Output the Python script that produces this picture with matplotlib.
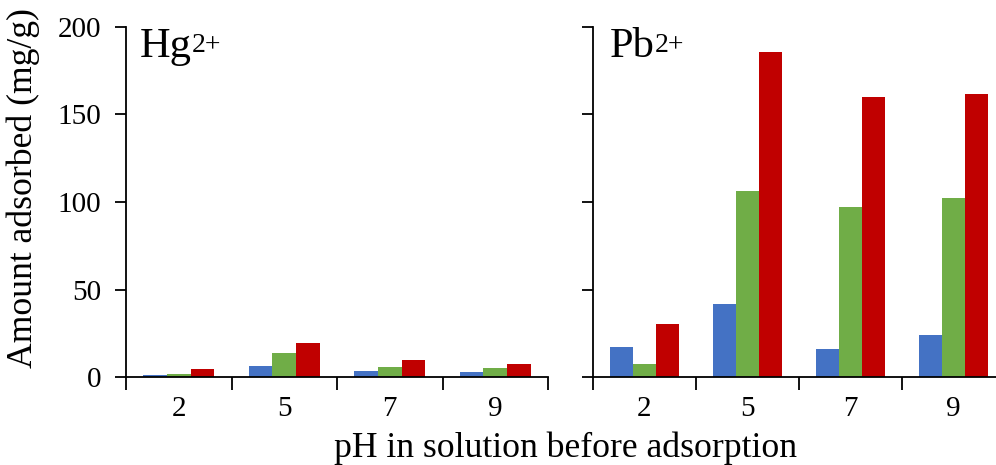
import matplotlib
matplotlib.use("Agg")
import matplotlib.pyplot as plt
import numpy as np

plt.rcParams['font.family'] = ['Liberation Serif', 'DejaVu Serif']

categories = ['2', '5', '7', '9']
hg_blue = [1.4, 6.2, 3.7, 2.7]
hg_green = [2.0, 13.5, 5.6, 5.0]
hg_red = [4.3, 19.3, 10.0, 7.2]
pb_blue = [17.0, 41.8, 16.0, 23.9]
pb_green = [7.7, 106.0, 97.0, 102.3]
pb_red = [30.5, 185.5, 160.0, 161.8]
colors = ['#4472C4', '#70AD47', '#C00000']

W, H = 996, 465
fig = plt.figure(figsize=(W / 100, H / 100), dpi=100)
ax1 = fig.add_axes([126 / W, 1 - 377 / H, 422 / W, 350 / H])
ax2 = fig.add_axes([593 / W, 1 - 377 / H, 412 / W, 350 / H])

w = 0.224
x = np.arange(len(categories))
titles = []
for ax, series, name, tx in [(ax1, [hg_blue, hg_green, hg_red], 'Hg', 140),
                             (ax2, [pb_blue, pb_green, pb_red], 'Pb', 610)]:
    for i, (vals, c) in enumerate(zip(series, colors)):
        ax.bar(x + (i - 1) * w, vals, w, color=c, edgecolor='none')
    ax.set_xlim(-0.5, len(categories) - 0.5)
    ax.set_ylim(0, 200)
    ax.set_yticks([0, 50, 100, 150, 200])
    ax.set_xticks(np.arange(-0.5, len(categories)), labels=[''] * (len(categories) + 1))
    ax.set_xticks(x, labels=categories, minor=True)
    ax.tick_params(axis='x', which='minor', length=0, labelsize=21, pad=14)
    ax.tick_params(axis='x', which='major', length=9, width=1.3, direction='out')
    ax.tick_params(axis='y', length=8, width=1.3, direction='out', labelsize=21, pad=10)
    for s in ['top', 'right']:
        ax.spines[s].set_visible(False)
    for s in ['left', 'bottom']:
        ax.spines[s].set_linewidth(1.3)
    t = fig.text(tx / W, 1 - 57 / H, name, fontsize=30.5, ha='left', va='baseline')
    titles.append(t)

ax2.tick_params(axis='y', labelleft=False)

fig.text(23 / W, 1 - 188 / H, 'Amount adsorbed (mg/g)', fontsize=25.7,
         rotation=90, ha='center', va='center')
fig.text(566 / W, 1 - 457 / H, 'pH in solution before adsorption', fontsize=25.7,
         ha='center', va='baseline')

fig.canvas.draw()
r = fig.canvas.get_renderer()
for t in titles:
    bb = t.get_window_extent(r)
    fig.text(bb.x1 / W, 1 - 52 / H, '2+', fontsize=20, ha='left', va='baseline')

fig.savefig('out.png', dpi=100)
